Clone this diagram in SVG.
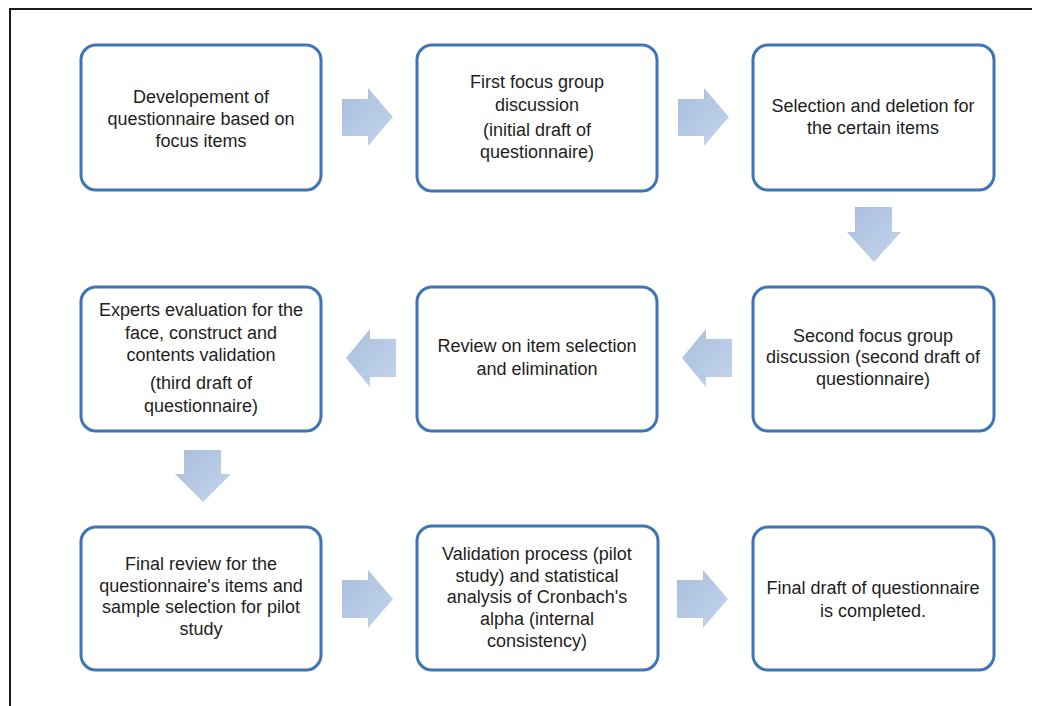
<svg xmlns="http://www.w3.org/2000/svg" width="1052" height="706" viewBox="0 0 1052 706">
<defs>
<style>
.box{fill:#ffffff;stroke:#3d75b5;stroke-width:3}
.t{font-family:"Liberation Sans",Arial,sans-serif;font-size:18px;fill:#1e1e1e;text-anchor:middle}
.arr{fill:url(#ag)}
.frame{stroke:#1a1a1a;stroke-width:2;fill:none}
</style>
<linearGradient id="ag" x1="0" y1="0" x2="1" y2="1">
<stop offset="0" stop-color="#a9bedd"/>
<stop offset="1" stop-color="#c3d5ec"/>
</linearGradient>
</defs>
<rect width="1052" height="706" fill="#ffffff"/>
<path class="frame" d="M10,706 V9 H1032"/>
<g id="connectors">
<polygon class="arr" points="342,99 368,99 368,88 393,117 368,146 368,136 342,136"/>
<polygon class="arr" points="678,99 704,99 704,88 729,117 704,146 704,136 678,136"/>
<polygon class="arr" points="855,207 892,207 892,232 901,232 874,262 847,232 855,232"/>
<polygon class="arr" points="732,339 706,339 706,329 682,358 706,387 706,377 732,377"/>
<polygon class="arr" points="396,339 370,339 370,329 346,358 370,387 370,377 396,377"/>
<polygon class="arr" points="184,450 221,450 221,474 231,474 203,502 175,474 184,474"/>
<polygon class="arr" points="342,580 368,580 368,570 393,599 368,628 368,618 342,618"/>
<polygon class="arr" points="677,580 703,580 703,570 728,599 703,628 703,618 677,618"/>
</g>
<g id="n1"><rect class="box" x="81" y="45" width="240" height="145" rx="15"/>
<text class="t"><tspan x="201" y="103">Developement of</tspan><tspan x="201" y="125">questionnaire based on</tspan><tspan x="201" y="147">focus items</tspan></text></g>
<g id="n2"><rect class="box" x="417" y="45" width="240" height="146" rx="15"/>
<text class="t"><tspan x="537" y="88">First focus group</tspan><tspan x="537" y="111">discussion</tspan><tspan x="537" y="136">(initial draft of</tspan><tspan x="537" y="158">questionnaire)</tspan></text></g>
<g id="n3"><rect class="box" x="753" y="45" width="241" height="145" rx="15"/>
<text class="t"><tspan x="873" y="112">Selection and deletion for</tspan><tspan x="873" y="134">the certain items</tspan></text></g>
<g id="n4"><rect class="box" x="81" y="287" width="240" height="144" rx="15"/>
<text class="t"><tspan x="201" y="316">Experts evaluation for the</tspan><tspan x="201" y="339">face, construct and</tspan><tspan x="201" y="361">contents validation</tspan><tspan x="201" y="389">(third draft of</tspan><tspan x="201" y="412">questionnaire)</tspan></text></g>
<g id="n5"><rect class="box" x="417" y="287" width="240" height="144" rx="15"/>
<text class="t"><tspan x="537" y="352">Review on item selection</tspan><tspan x="537" y="375">and elimination</tspan></text></g>
<g id="n6"><rect class="box" x="753" y="287" width="241" height="144" rx="15"/>
<text class="t"><tspan x="873" y="342">Second focus group</tspan><tspan x="873" y="363">discussion (second draft of</tspan><tspan x="873" y="385">questionnaire)</tspan></text></g>
<g id="n7"><rect class="box" x="81" y="527" width="240" height="143" rx="15"/>
<text class="t"><tspan x="201" y="570">Final review for the</tspan><tspan x="201" y="592">questionnaire's items and</tspan><tspan x="201" y="613">sample selection for pilot</tspan><tspan x="201" y="635">study</tspan></text></g>
<g id="n8"><rect class="box" x="417" y="526" width="241" height="144" rx="15"/>
<text class="t"><tspan x="537" y="560">Validation process (pilot</tspan><tspan x="537" y="582">study) and statistical</tspan><tspan x="537" y="603">analysis of Cronbach's</tspan><tspan x="537" y="625">alpha (internal</tspan><tspan x="537" y="647">consistency)</tspan></text></g>
<g id="n9"><rect class="box" x="753" y="527" width="241" height="143" rx="15"/>
<text class="t"><tspan x="873" y="594">Final draft of questionnaire</tspan><tspan x="873" y="617">is completed.</tspan></text></g>
</svg>
